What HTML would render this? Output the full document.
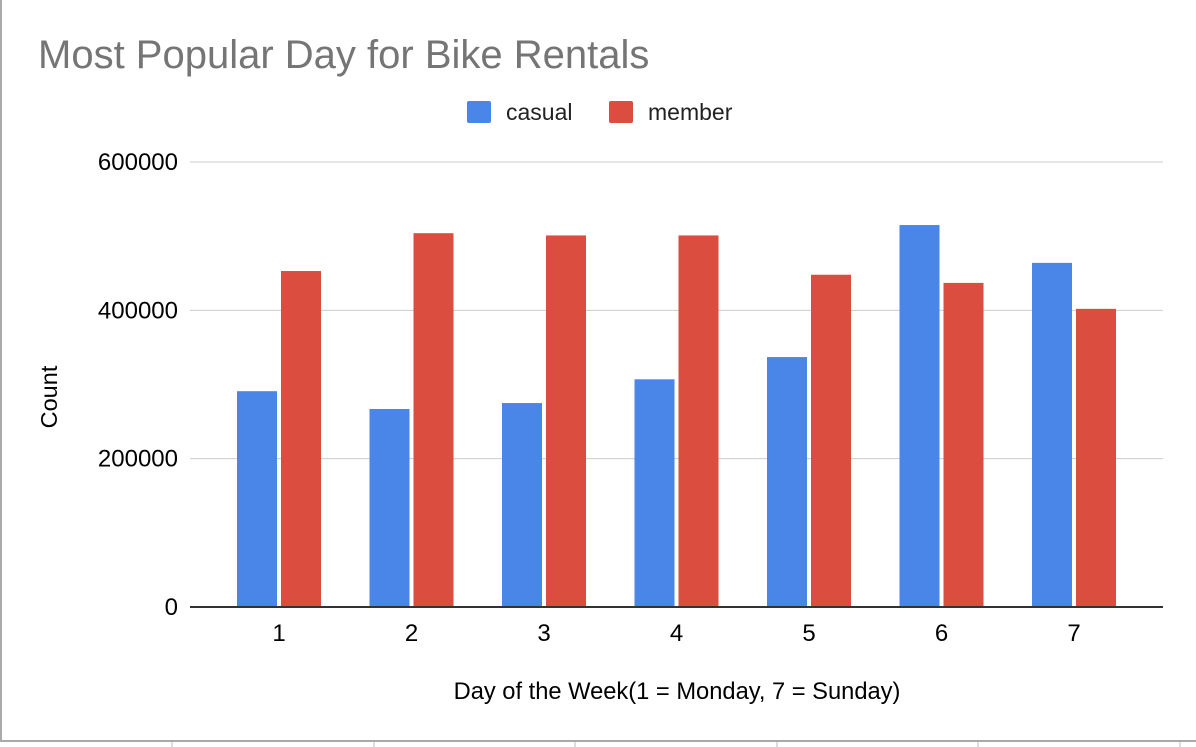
<!DOCTYPE html>
<html><head><meta charset="utf-8"><style>
body{margin:0;background:#fff;}
svg{display:block;font-family:"Liberation Sans",Arial,sans-serif;}
</style></head><body>
<svg width="1196" height="747">
<rect x="0" y="0" width="1196" height="747" fill="#fff"/>
<line x1="1" y1="0" x2="1" y2="741" stroke="#aaa" stroke-width="2"/>
<line x1="0" y1="741" x2="1196" y2="741" stroke="#aaa" stroke-width="2"/>
<g stroke="#ddd" stroke-width="2"><line x1="172" y1="742" x2="172" y2="747"/><line x1="374" y1="742" x2="374" y2="747"/><line x1="575" y1="742" x2="575" y2="747"/><line x1="777" y1="742" x2="777" y2="747"/><line x1="978" y1="742" x2="978" y2="747"/><line x1="1180" y1="742" x2="1180" y2="747"/></g>
<text x="38" y="68" font-size="40" fill="#757575">Most Popular Day for Bike Rentals</text>
<rect x="467" y="101" width="24" height="22" rx="2" fill="#4a86e8"/>
<text x="506" y="120" font-size="23" fill="#222">casual</text>
<rect x="609" y="101" width="24" height="22" rx="2" fill="#db4d3e"/>
<text x="648" y="120" font-size="23" fill="#222">member</text>
<text transform="translate(57,397) rotate(-90)" text-anchor="middle" font-size="23.5" fill="#000">Count</text>
<text x="677" y="699" text-anchor="middle" font-size="23.7" fill="#000">Day of the Week(1 = Monday, 7 = Sunday)</text>
<g id="grid"></g><g id="bars"></g><g id="xlabels"></g>
<line x1="190" y1="607" x2="1163" y2="607" stroke="#333" stroke-width="2"/>
</svg>
<script>
const categories=["1","2","3","4","5","6","7"];
const casual=[291000,267000,275000,307000,337000,515000,464000];
const member=[453000,504000,501000,501000,448000,437000,402000];
const yTicks=[0,200000,400000,600000];
const NS="http://www.w3.org/2000/svg";
function y(v){return 607-v*(445/600000);}
function xc(i){return 279+i*132.5;}
const grid=document.getElementById('grid');
yTicks.forEach(t=>{
  if(t>0){const l=document.createElementNS(NS,'line');
  l.setAttribute('x1',190);l.setAttribute('x2',1163);l.setAttribute('y1',y(t));l.setAttribute('y2',y(t));
  l.setAttribute('stroke','#ccc');l.setAttribute('stroke-width','1');
  
  
  grid.appendChild(l);}
  const tx=document.createElementNS(NS,'text');
  tx.setAttribute('x',178);tx.setAttribute('y',y(t)+8);tx.setAttribute('text-anchor','end');
  tx.setAttribute('font-size','24');tx.textContent=t;
  
  
  grid.appendChild(tx);
});
const bars=document.getElementById('bars');
function bar(x,v,c,n){const r=document.createElementNS(NS,'rect');
  r.setAttribute('x',x);r.setAttribute('y',y(v));r.setAttribute('width',40);r.setAttribute('height',607-y(v));r.setAttribute('fill',c);
  
  
  bars.appendChild(r);}
categories.forEach((c,i)=>{
  bar(xc(i)-42,casual[i],'#4a86e8','bar-casual-'+c);
  bar(xc(i)+2,member[i],'#db4d3e','bar-member-'+c);
  const tx=document.createElementNS(NS,'text');
  tx.setAttribute('x',xc(i));tx.setAttribute('y',641);tx.setAttribute('text-anchor','middle');tx.setAttribute('font-size','24');
  tx.textContent=c;
  
  
  document.getElementById('xlabels').appendChild(tx);
});
</script>
</body></html>
